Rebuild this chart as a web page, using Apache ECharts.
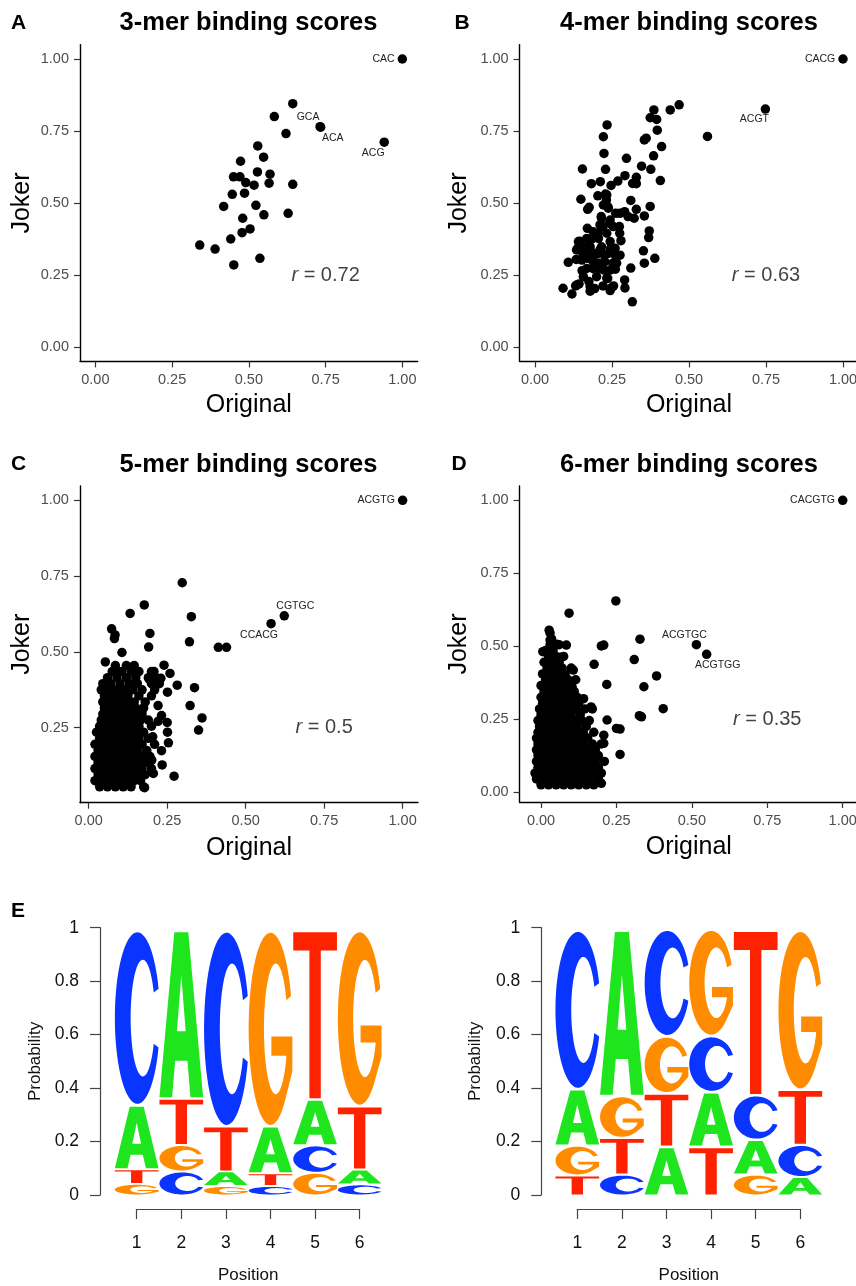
<!DOCTYPE html>
<html>
<head>
<meta charset="utf-8">
<script src="https://cdn.jsdelivr.net/npm/echarts@6/dist/echarts.min.js"></script>
<style>
  html, body { margin: 0; padding: 0; background: #fff; }
  #chart { width: 856px; height: 1286px; }
</style>
</head>
<body>
<div id="chart"></div>
<script>
// ---------------- data ----------------
const panelTitles = ['3-mer binding scores', '4-mer binding scores', '5-mer binding scores', '6-mer binding scores'];
const panelTags = ['A', 'B', 'C', 'D', 'E'];
const rValues = ['0.72', '0.63', '0.5', '0.35'];
const scoreTicks = [0, 0.25, 0.5, 0.75, 1];
const scoreTicksNoZero = [0.25, 0.5, 0.75, 1];
const positions = [1, 2, 3, 4, 5, 6];
const bases = ['A', 'C', 'G', 'T'];

// [Original, Joker]
const kmer3 = [[0.643,0.845],[0.583,0.800],[0.621,0.741],[0.529,0.698],[0.548,0.659],[0.473,0.645],[0.450,0.591],
  [0.471,0.591],[0.528,0.608],[0.569,0.600],[0.490,0.571],[0.517,0.562],[0.566,0.569],[0.643,0.565],[0.446,0.530],
  [0.486,0.534],[0.418,0.488],[0.523,0.492],[0.480,0.447],[0.549,0.459],[0.628,0.464],[0.504,0.410],[0.478,0.397],
  [0.441,0.375],[0.340,0.354],[0.390,0.340],[0.536,0.308],[0.451,0.285]];
const kmer3Named = [['CAC',1.0,1.0],['GCA',0.732,0.765],['ACA',0.734,0.763],['ACG',0.941,0.711]];

const kmer4 = [[0.468,0.841],[0.439,0.823],[0.386,0.823],[0.374,0.796],[0.395,0.790],[0.397,0.753],[0.560,0.731],
  [0.355,0.719],[0.361,0.725],[0.411,0.696],[0.385,0.664],[0.234,0.771],[0.222,0.730],[0.224,0.672],[0.297,0.655],
  [0.346,0.628],[0.376,0.617],[0.407,0.578],[0.154,0.618],[0.229,0.617],[0.183,0.567],[0.212,0.574],[0.247,0.561],
  [0.269,0.576],[0.292,0.595],[0.329,0.589],[0.317,0.568],[0.329,0.567],[0.149,0.513],[0.204,0.525],[0.229,0.531],
  [0.232,0.510],[0.311,0.509],[0.171,0.478],[0.176,0.485],[0.237,0.487],[0.215,0.453],[0.262,0.464],[0.291,0.470],
  [0.329,0.478],[0.374,0.488],[0.355,0.455],[0.322,0.447],[0.302,0.453],[0.242,0.429],[0.170,0.412],[0.220,0.418],
  [0.274,0.418],[0.205,0.395],[0.275,0.395],[0.371,0.403],[0.369,0.380],[0.183,0.374],[0.279,0.369],[0.145,0.367],
  [0.139,0.343],[0.166,0.348],[0.211,0.337],[0.246,0.343],[0.352,0.334],[0.155,0.326],[0.188,0.326],[0.225,0.319],
  [0.262,0.316],[0.134,0.304],[0.171,0.308],[0.209,0.291],[0.253,0.291],[0.108,0.294],[0.389,0.308],[0.355,0.291],
  [0.311,0.274],[0.153,0.265],[0.188,0.273],[0.224,0.267],[0.261,0.270],[0.236,0.238],[0.291,0.233],[0.175,0.227],
  [0.143,0.219],[0.132,0.212],[0.091,0.204],[0.194,0.203],[0.221,0.212],[0.255,0.212],[0.292,0.205],[0.120,0.184],
  [0.179,0.194],[0.244,0.196],[0.316,0.157],[0.233,0.528],[0.222,0.493],[0.238,0.482],[0.216,0.447],[0.244,0.441],
  [0.276,0.464],[0.211,0.424],[0.254,0.418],[0.189,0.400],[0.233,0.395],[0.168,0.377],[0.206,0.377],[0.244,0.366],
  [0.141,0.366],[0.179,0.348],[0.216,0.348],[0.260,0.343],[0.135,0.337],[0.162,0.331],[0.200,0.322],[0.238,0.325],
  [0.276,0.319],[0.152,0.302],[0.189,0.296],[0.227,0.296],[0.265,0.291],[0.168,0.273],[0.206,0.273],[0.244,0.267],
  [0.157,0.244],[0.200,0.244],[0.233,0.239],[0.135,0.215],[0.179,0.209],[0.249,0.206]];
const kmer4Named = [['CACG',1.0,1.0],['ACGT',0.748,0.826]];

const kmer5Sparse = [[0.298,0.728],[0.177,0.655],[0.132,0.627],[0.327,0.616],[0.073,0.576],[0.084,0.556],[0.082,0.544],
  [0.195,0.561],[0.321,0.533],[0.413,0.515],[0.439,0.515],[0.191,0.516],[0.106,0.498],[0.053,0.467],[0.086,0.440],
  [0.240,0.456],[0.259,0.429],[0.282,0.390],[0.337,0.382],[0.251,0.367],[0.323,0.323],[0.221,0.323],[0.361,0.282],
  [0.350,0.242],[0.254,0.200],[0.234,0.127],[0.272,0.090],[0.178,0.052],[0.206,0.099],[0.232,0.174],[0.251,0.235],
  [0.232,0.290],[0.221,0.271],[0.204,0.220],[0.185,0.165],[0.201,0.143],[0.250,0.267],[0.230,0.413],[0.208,0.435],
  [0.193,0.410]];
// dense core, one row per Joker level: [Joker, [Original ...]]
const kmer5Core = [
  [0.055, [0.035,0.06,0.085,0.11,0.135,0.175]],
  [0.075, [0.02,0.045,0.07,0.095,0.12,0.145,0.165]],
  [0.095, [0.03,0.055,0.08,0.105,0.13,0.155,0.18]],
  [0.115, [0.02,0.045,0.07,0.095,0.12,0.145,0.17,0.2]],
  [0.135, [0.03,0.055,0.08,0.105,0.13,0.155,0.18]],
  [0.155, [0.02,0.045,0.07,0.095,0.12,0.145,0.17,0.195]],
  [0.175, [0.03,0.055,0.08,0.105,0.13,0.155,0.185]],
  [0.195, [0.02,0.045,0.07,0.095,0.12,0.145,0.17,0.21]],
  [0.215, [0.035,0.06,0.085,0.11,0.135,0.16,0.19]],
  [0.235, [0.025,0.05,0.075,0.1,0.125,0.15,0.175]],
  [0.255, [0.035,0.06,0.085,0.11,0.135,0.16,0.2]],
  [0.275, [0.04,0.065,0.09,0.115,0.14,0.165,0.19]],
  [0.295, [0.045,0.07,0.095,0.12,0.145,0.17]],
  [0.315, [0.05,0.075,0.1,0.125,0.15,0.175]],
  [0.335, [0.045,0.07,0.095,0.12,0.145,0.18]],
  [0.355, [0.05,0.075,0.1,0.125,0.16,0.2]],
  [0.375, [0.04,0.065,0.09,0.115,0.14,0.17,0.21]],
  [0.395, [0.045,0.07,0.1,0.13,0.155,0.2,0.225]],
  [0.415, [0.06,0.09,0.12,0.15,0.19,0.215]],
  [0.435, [0.075,0.105,0.135,0.16,0.2]],
  [0.455, [0.085,0.12,0.145]]
];
const kmer5Named = [['ACGTG',1.0,1.0],['CGTGC',0.623,0.619],['CCACG',0.581,0.593]];

const kmer6Sparse = [[0.248,0.655],[0.093,0.613],[0.027,0.555],[0.030,0.521],[0.052,0.507],[0.035,0.484],[0.006,0.481],
  [0.064,0.462],[0.084,0.504],[0.208,0.504],[0.200,0.501],[0.328,0.524],[0.309,0.454],[0.176,0.438],[0.383,0.398],
  [0.341,0.361],[0.218,0.369],[0.107,0.418],[0.103,0.361],[0.405,0.286],[0.326,0.262],[0.333,0.258],[0.219,0.247],
  [0.250,0.218],[0.262,0.216],[0.262,0.129],[0.200,0.030],[0.141,0.320],[0.166,0.292],[0.208,0.195],[0.208,0.167]];
const kmer6Core = [
  [0.025, [0.0,0.025,0.05,0.075,0.1,0.125,0.15,0.175]],
  [0.045, [-0.015,0.01,0.035,0.06,0.085,0.11,0.135,0.16,0.19]],
  [0.065, [-0.02,0.0,0.025,0.05,0.075,0.1,0.125,0.15,0.175,0.2]],
  [0.085, [-0.01,0.015,0.04,0.065,0.09,0.115,0.14,0.165,0.19]],
  [0.105, [-0.015,0.005,0.03,0.055,0.08,0.105,0.13,0.155,0.18,0.21]],
  [0.125, [-0.01,0.015,0.04,0.065,0.09,0.115,0.14,0.165,0.19]],
  [0.145, [-0.015,0.005,0.03,0.055,0.08,0.105,0.13,0.155,0.18]],
  [0.165, [-0.01,0.015,0.04,0.065,0.09,0.115,0.14,0.17,0.2]],
  [0.185, [-0.015,0.005,0.03,0.055,0.08,0.105,0.13,0.155]],
  [0.205, [-0.01,0.015,0.04,0.065,0.09,0.115,0.14,0.175]],
  [0.225, [-0.005,0.02,0.045,0.07,0.095,0.12,0.15]],
  [0.245, [-0.01,0.01,0.035,0.06,0.085,0.11,0.135,0.16]],
  [0.265, [0.0,0.025,0.05,0.075,0.1,0.13]],
  [0.285, [-0.005,0.015,0.04,0.065,0.09,0.115,0.145,0.17]],
  [0.305, [0.005,0.03,0.055,0.08,0.105,0.125]],
  [0.325, [0.0,0.02,0.045,0.07,0.095,0.12]],
  [0.345, [0.01,0.035,0.06,0.085,0.11]],
  [0.365, [0.0,0.025,0.05,0.075,0.1]],
  [0.385, [0.015,0.04,0.065,0.09,0.115]],
  [0.405, [0.005,0.03,0.055,0.08]],
  [0.425, [0.02,0.045,0.07,0.1]],
  [0.445, [0.01,0.035,0.06]],
  [0.465, [0.025,0.05,0.075]],
  [0.485, [0.015,0.04]],
  [0.505, [0.03,0.06]],
  [0.525, [0.035]],
  [0.545, [0.03]]
];
const kmer6Named = [['CACGTG',1.0,1.0],['ACGTGC',0.515,0.505],['ACGTGG',0.549,0.472]];

// per-position base probabilities for the two logos
const logoLeftA = [0.241, 0.636, 0.055, 0.177, 0.172, 0.056];
const logoLeftC = [0.661, 0.090, 0.740, 0.035, 0.103, 0.041];
const logoLeftG = [0.043, 0.099, 0.035, 0.740, 0.085, 0.664];
const logoLeftT = [0.055, 0.175, 0.170, 0.048, 0.640, 0.239];
const logoRightA = [0.212, 0.627, 0.183, 0.205, 0.131, 0.069];
const logoRightC = [0.601, 0.078, 0.403, 0.210, 0.167, 0.121];
const logoRightG = [0.112, 0.157, 0.214, 0.402, 0.078, 0.603];
const logoRightT = [0.075, 0.138, 0.200, 0.183, 0.624, 0.207];

// ---------------- helpers ----------------
const FONT = '"Liberation Sans", Arial, Helvetica, sans-serif';

function expandRows(rows) {
  const out = [];
  rows.forEach(([y, xs]) => xs.forEach(x => out.push([x, y])));
  return out;
}

// letter outlines in a 100 x 100 box (y down)
function arcPts(cx, cy, rx, ry, a0, a1, n) {
  const pts = [];
  for (let i = 0; i <= n; i++) {
    const a = (a0 + (a1 - a0) * i / n) * Math.PI / 180;
    pts.push([cx + rx * Math.cos(a), cy - ry * Math.sin(a)]);
  }
  return pts;
}
function poly(pts) {
  return 'M' + pts.map(p => p[0].toFixed(2) + ' ' + p[1].toFixed(2)).join(' L') + ' Z';
}
const LETTER_PATHS = {
  A: poly([[0,100],[34,0],[66,0],[100,100],[71,100],[64,78],[36,78],[29,100]]) + ' ' +
     poly([[40,60],[60,60],[50,26]]),
  C: poly(arcPts(50,50,50,50,20,340,72).concat(arcPts(62,50,27,34,334,26,72))),
  G: poly(arcPts(50,50,50,50,20,315,72)
      .concat([[100,72],[100,54],[52,54],[52,64],[86,64]])
      .concat(arcPts(62,50,27,34,334,26,72))),
  T: poly([[0,0],[100,0],[100,11],[63,11],[63,100],[37,100],[37,11],[0,11]])
};
const LETTER_COLORS = { A: '#1fe51f', C: '#0a34ff', G: '#ff8c00', T: '#ff2200' };

function logoStack(pA, pC, pG, pT) {
  const probs = { A: pA, C: pC, G: pG, T: pT };
  const items = [];
  positions.forEach((pos, i) => {
    const order = bases.slice().sort((a, b) => probs[a][i] - probs[b][i]);
    let cum = 0;
    order.forEach(b => {
      const p = probs[b][i];
      items.push([pos, bases.indexOf(b), cum, cum + p]);
      cum += p;
    });
  });
  return items;
}

function renderLetter(params, api) {
  const pos = api.value(0), bi = api.value(1), y0 = api.value(2), y1 = api.value(3);
  const h = y1 - y0;
  const bl = api.coord([pos - 0.49, y0 + 0.002]);
  const tr = api.coord([pos + 0.49, y1 - 0.004 - 0.02 * h]);
  const b = bases[bi];
  return {
    type: 'path',
    shape: { pathData: LETTER_PATHS[b], x: bl[0], y: tr[1], width: tr[0] - bl[0], height: bl[1] - tr[1], layout: 'cover' },
    style: { fill: LETTER_COLORS[b] }
  };
}

// label placement of the named k-mers
const namedLabelPlacement = {
  CAC: { position: 'left', distance: 3 },
  GCA: { position: 'inside', offset: [-12, -10] },
  ACA: { position: 'inside', offset: [12, 11] },
  ACG: { position: 'inside', offset: [-11, 11] },
  CACG: { position: 'left', distance: 3 },
  ACGT: { position: 'inside', offset: [-11, 10] },
  ACGTG: { position: 'left', distance: 3 },
  CGTGC: { position: 'inside', offset: [11, -10] },
  CCACG: { position: 'inside', offset: [-12, 11] },
  CACGTG: { position: 'left', distance: 3 },
  ACGTGC: { position: 'inside', offset: [-12, -10] },
  ACGTGG: { position: 'inside', offset: [11, 11] }
};

// ---------------- layout ----------------
const scatterGrids = [
  { left: 80,    top: 44.6, width: 337.7, height: 316.8, x: [-0.05, 1.05],   y: [-0.05, 1.05],    yTicks: scoreTicks,       xGap: 31.5, yGap: 45 },
  { left: 519.6, top: 44.6, width: 338.8, height: 316.8, x: [-0.05, 1.05],   y: [-0.05, 1.05],    yTicks: scoreTicks,       xGap: 31.5, yGap: 47.5 },
  { left: 79.9,  top: 485.9, width: 338.1, height: 316.8, x: [-0.028, 1.049], y: [0.0025, 1.0475], yTicks: scoreTicksNoZero, xGap: 33, yGap: 45 },
  { left: 519.6, top: 486,  width: 338.5, height: 316,   x: [-0.071, 1.051], y: [-0.034, 1.049],  yTicks: scoreTicks,       xGap: 33, yGap: 47.5 }
];
const scatterSets = [
  { pts: kmer3, named: kmer3Named },
  { pts: kmer4, named: kmer4Named },
  { pts: kmer5Sparse.concat(expandRows(kmer5Core)), named: kmer5Named },
  { pts: kmer6Sparse.concat(expandRows(kmer6Core)), named: kmer6Named }
];

const grids = [], xAxes = [], yAxes = [], series = [];
const dotStyle = { color: '#000', opacity: 1 };

scatterGrids.forEach((g, k) => {
  grids.push({ left: g.left, top: g.top, width: g.width, height: g.height, containLabel: false, outerBoundsMode: 'none' });
  xAxes.push({
    gridIndex: k, type: 'value', min: g.x[0], max: g.x[1],
    axisLine: { onZero: false, lineStyle: { color: '#000', width: 1.4 } },
    axisTick: { customValues: scoreTicks, length: 6, lineStyle: { color: '#333', width: 1.2 } },
    axisLabel: { customValues: scoreTicks, formatter: v => v.toFixed(2), color: '#4d4d4d', fontSize: 14.5, fontFamily: FONT, margin: 11 },
    splitLine: { show: false },
    name: 'Original', nameLocation: 'middle', nameGap: g.xGap,
    nameTextStyle: { fontSize: 25, color: '#000', fontFamily: FONT }
  });
  yAxes.push({
    gridIndex: k, type: 'value', min: g.y[0], max: g.y[1],
    axisLine: { onZero: false, lineStyle: { color: '#000', width: 1.4 } },
    axisTick: { customValues: g.yTicks, length: 6, lineStyle: { color: '#333', width: 1.2 } },
    axisLabel: { customValues: g.yTicks, formatter: v => v.toFixed(2), color: '#4d4d4d', fontSize: 14.5, fontFamily: FONT, margin: 11 },
    splitLine: { show: false },
    name: 'Joker', nameLocation: 'middle', nameRotate: 90, nameGap: g.yGap,
    nameTextStyle: { fontSize: 25, color: '#000', fontFamily: FONT }
  });
  const set = scatterSets[k];
  series.push({
    type: 'scatter', xAxisIndex: k, yAxisIndex: k, symbolSize: 9.5,
    itemStyle: dotStyle, data: set.pts, silent: true
  });
  series.push({
    type: 'scatter', xAxisIndex: k, yAxisIndex: k, symbolSize: 9.5,
    itemStyle: dotStyle, silent: true,
    data: set.named.map(([name, x, y]) => ({
      name, value: [x, y],
      label: Object.assign({ show: true, formatter: '{b}', fontSize: 10.5, color: '#222', fontFamily: FONT }, namedLabelPlacement[name])
    }))
  });
  series.push({
    type: 'scatter', xAxisIndex: k, yAxisIndex: k, symbolSize: 1, silent: true, z: 5,
    itemStyle: { color: 'rgba(0,0,0,0)' },
    data: [[0.75, 0.25]],
    label: {
      show: true, position: 'inside', formatter: '{i|r} = ' + rValues[k],
      fontSize: 20, color: '#111', fontFamily: FONT,
      rich: { i: { fontStyle: 'italic', fontSize: 20, color: '#111', fontFamily: FONT } }
    }
  });
});

// sequence logos
const logoDefs = [
  { left: 114.4, axisLeft: 100, tick1: 136.7, probs: [logoLeftA, logoLeftC, logoLeftG, logoLeftT], nameGap: 56 },
  { left: 555,   axisLeft: 541.3, tick1: 577.3, probs: [logoRightA, logoRightC, logoRightG, logoRightT], nameGap: 57 }
];
logoDefs.forEach(d => {
  const gi = grids.length;
  grids.push({ left: d.left, top: 927.7, width: 267.6, height: 267.3, containLabel: false, outerBoundsMode: 'none' });
  xAxes.push({ gridIndex: gi, type: 'value', min: 0.5, max: 6.5, show: false });
  yAxes.push({
    gridIndex: gi, type: 'value', min: 0, max: 1, interval: 0.2, offset: d.left - d.axisLeft,
    axisLine: { show: true, lineStyle: { color: '#444', width: 1.2 } },
    axisTick: { show: true, length: 10, lineStyle: { color: '#444', width: 1.2 } },
    axisLabel: { formatter: v => (v === 0 || v === 1) ? String(v) : v.toFixed(1), color: '#111', fontSize: 17.5, fontFamily: FONT, margin: 21 },
    splitLine: { show: false },
    name: 'Probability', nameLocation: 'middle', nameRotate: 90, nameGap: d.nameGap,
    nameTextStyle: { fontSize: 17, color: '#111', fontFamily: FONT }
  });
  series.push({
    type: 'custom', xAxisIndex: gi, yAxisIndex: gi, silent: true,
    renderItem: renderLetter, encode: { x: 0, y: [2, 3] },
    data: logoStack(...d.probs)
  });
  // position axis (spans first to last tick only)
  const ai = grids.length;
  grids.push({ left: d.tick1, top: 927.7, width: 223, height: 281.3, containLabel: false, outerBoundsMode: 'none' });
  xAxes.push({
    gridIndex: ai, type: 'value', min: positions[0], max: positions[positions.length - 1], interval: 1,
    axisLine: { onZero: false, lineStyle: { color: '#444', width: 1.2 } },
    axisTick: { length: 10, lineStyle: { color: '#444', width: 1.2 } },
    axisLabel: { color: '#111', fontSize: 17.5, fontFamily: FONT, margin: 25 },
    splitLine: { show: false },
    name: 'Position', nameLocation: 'middle', nameGap: 57.5,
    nameTextStyle: { fontSize: 17, color: '#111', fontFamily: FONT }
  });
  yAxes.push({ gridIndex: ai, type: 'value', min: 0, max: 1, show: false });
});

// titles and panel tags
const titleCenters = [[248.5, 10], [689, 10], [248.5, 451.5], [689, 451.5]];
const tagPos = [[11, 12.3], [454.5, 12.3], [11, 454], [451.5, 454], [11, 900.5]];
const graphics = [];
panelTitles.forEach((t, i) => graphics.push({
  type: 'text', x: titleCenters[i][0], y: titleCenters[i][1], silent: true,
  style: { text: t, fontSize: 25.5, fontWeight: 'bold', fontFamily: FONT, fill: '#000', textAlign: 'center', textVerticalAlign: 'top' }
}));
panelTags.forEach((t, i) => graphics.push({
  type: 'text', x: tagPos[i][0], y: tagPos[i][1], silent: true,
  style: { text: t, fontSize: 21, fontWeight: 'bold', fontFamily: FONT, fill: '#000', textAlign: 'left', textVerticalAlign: 'top' }
}));

const chart = echarts.init(document.getElementById('chart'), null, { renderer: 'canvas' });
chart.setOption({
  animation: false,
  backgroundColor: '#fff',
  textStyle: { fontFamily: FONT },
  grid: grids,
  xAxis: xAxes,
  yAxis: yAxes,
  series: series,
  graphic: graphics
});
</script>
</body>
</html>
